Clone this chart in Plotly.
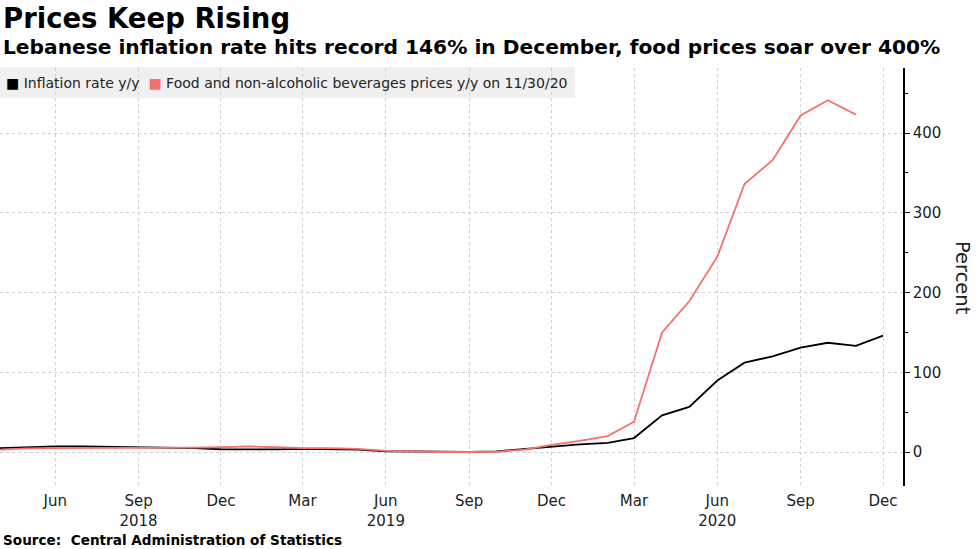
import plotly.graph_objects as go

months = [
    "2018-04-01", "2018-05-01", "2018-06-01", "2018-07-01", "2018-08-01", "2018-09-01",
    "2018-10-01", "2018-11-01", "2018-12-01",
    "2019-01-01", "2019-02-01", "2019-03-01", "2019-04-01", "2019-05-01", "2019-06-01",
    "2019-07-01", "2019-08-01", "2019-09-01", "2019-10-01", "2019-11-01", "2019-12-01",
    "2020-01-01", "2020-02-01", "2020-03-01", "2020-04-01", "2020-05-01", "2020-06-01",
    "2020-07-01", "2020-08-01", "2020-09-01", "2020-10-01", "2020-11-01", "2020-12-01",
]
inflation = [5, 6, 7, 7, 6.5, 6, 6, 5, 3.5,
             3, 3.2, 4, 3.5, 3, 1, 0.5, 0.2, 0.3, 0.8, 3.5, 7,
             9.5, 11.4, 17.5, 46, 56.5, 89.7, 112, 120, 131, 137, 133, 146]
food_months = months[:-1]
food = [3, 4.5, 5, 5, 5, 5, 5, 5.5, 6,
        7, 6, 5, 5, 4, 1.5, 0.5, 0, 0, 0.3, 3, 9,
        14, 20, 38, 150, 189, 245, 336, 366, 422, 441, 423]

tick_vals = ["2018-06-01", "2018-09-01", "2018-12-01", "2019-03-01", "2019-06-01", "2019-09-01",
             "2019-12-01", "2020-03-01", "2020-06-01", "2020-09-01", "2020-12-01"]
tick_text = ["Jun", "Sep<br>2018", "Dec", "Mar", "Jun<br>2019", "Sep", "Dec", "Mar",
             "Jun<br>2020", "Sep", "Dec"]
y_ticks = [0, 100, 200, 300, 400]

BLACK = "#000000"
RED = "#f4716d"
FONT = "DejaVu Sans"

W, H = 977, 549
ML, MR, MT, MB = 0, 74, 68, 63
PH = H - MT - MB

fig = go.Figure()
fig.add_trace(go.Scatter(x=months, y=inflation, mode="lines",
                         line=dict(color=BLACK, width=1.8), showlegend=False))
fig.add_trace(go.Scatter(x=food_months, y=food, mode="lines",
                         line=dict(color=RED, width=1.8), showlegend=False))

fig.update_layout(
    width=W, height=H,
    margin=dict(l=ML, r=MR, t=MT, b=MB),
    paper_bgcolor="white", plot_bgcolor="white",
    font=dict(family=FONT, color="#222"),
    showlegend=False,
    xaxis=dict(
        range=["2018-04-01", "2020-12-23"],
        tickvals=tick_vals, ticktext=tick_text,
        showgrid=True, gridcolor="#cfcfcf", griddash="dot", gridwidth=1,
        ticks="", showline=False, zeroline=False,
        ticklabelstandoff=4,
        tickfont=dict(size=15, color="#222", family=FONT),
    ),
    yaxis=dict(
        range=[-42.6, 481.5], side="right",
        tickvals=y_ticks,
        showgrid=True, gridcolor="#cfcfcf", griddash="dot", gridwidth=1,
        showline=True, linecolor="black", linewidth=1.5,
        ticks="outside", ticklen=5, tickcolor="black",
        minor=dict(dtick=50, tick0=0, ticks="outside", ticklen=3, tickcolor="black", showgrid=False),
        zeroline=False,
        tickfont=dict(size=15, color="#222", family=FONT),
    ),
    shapes=[dict(type="rect", xref="paper", yref="paper", x0=0, x1=575 / (W - MR),
                 y0=(H - MB - 98) / PH, y1=(H - MB - 67) / PH,
                 fillcolor="#f0f0f0", line=dict(width=0), layer="below")],
    annotations=[
        dict(text="<b>Prices Keep Rising</b>", xref="paper", yref="paper",
             x=0, xanchor="left", xshift=1, y=1, yshift=68, yanchor="top",
             showarrow=False, font=dict(size=27.5, color="black", family=FONT)),
        dict(text="<b>Lebanese inflation rate hits record 146% in December, food prices soar over 400%</b>",
             xref="paper", yref="paper", x=0, xanchor="left", xshift=1,
             y=1, yshift=35, yanchor="top",
             showarrow=False, font=dict(size=20.2, color="black", family=FONT)),
        dict(text="<span style='color:#000'>■</span> Inflation rate y/y  "
                  "<span style='color:" + RED + "'>■</span> Food and non-alcoholic beverages prices y/y on 11/30/20",
             xref="paper", yref="paper", x=0, xanchor="left", xshift=4,
             y=1, yshift=-5, yanchor="top",
             showarrow=False, font=dict(size=14, color="#222", family=FONT)),
        dict(text="Percent", xref="paper", yref="paper", x=1, xanchor="center", xshift=60,
             y=(H - MB - 278) / PH, yanchor="middle", textangle=90,
             showarrow=False, font=dict(size=19.5, color="#222", family=FONT)),
        dict(text="<b>Source:&nbsp; Central Administration of Statistics</b>", xref="paper", yref="paper",
             x=0, xanchor="left", xshift=1, y=0, yshift=-44, yanchor="top",
             showarrow=False, font=dict(size=13.6, color="black", family=FONT)),
    ],
)

fig.write_html("out.html", config={"displayModeBar": False},
               post_script="document.body.style.margin='0';")
